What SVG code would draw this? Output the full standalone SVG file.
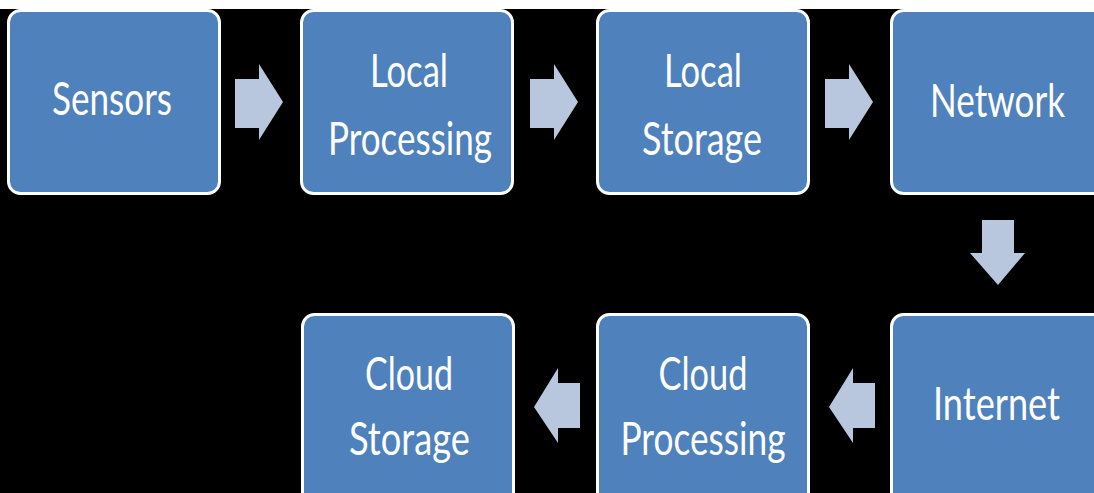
<svg xmlns="http://www.w3.org/2000/svg" width="1094" height="493" viewBox="0 0 1094 493">
  <defs>
    <style>
      .box { fill: #4f81bd; stroke: #ffffff; stroke-width: 3; }
      .lbl { font-family: Lato, "Liberation Sans", sans-serif; font-size: 47px; fill: #ffffff; text-anchor: middle; }
      .arr { fill: #b8c6de; }
    </style>
  </defs>
  <rect x="0" y="0" width="1094" height="493" fill="#000000"/>
  <rect x="0" y="0" width="1094" height="9" fill="#ffffff"/>

  <g id="sensors">
    <rect class="box" x="8.5" y="10.5" width="211" height="183" rx="12"/>
    <text class="lbl" x="112" y="115" textLength="120" lengthAdjust="spacingAndGlyphs">Sensors</text>
  </g>
  <g id="local-processing">
    <rect class="box" x="301.5" y="10.5" width="211" height="183" rx="12"/>
    <text class="lbl" x="409" y="87" textLength="78" lengthAdjust="spacingAndGlyphs">Local</text>
    <text class="lbl" x="410" y="155" textLength="164" lengthAdjust="spacingAndGlyphs">Processing</text>
  </g>
  <g id="local-storage">
    <rect class="box" x="597.5" y="10.5" width="211" height="183" rx="12"/>
    <text class="lbl" x="703" y="87" textLength="78" lengthAdjust="spacingAndGlyphs">Local</text>
    <text class="lbl" x="702" y="155" textLength="120" lengthAdjust="spacingAndGlyphs">Storage</text>
  </g>
  <g id="network">
    <rect class="box" x="891.5" y="10.5" width="230" height="183" rx="12"/>
    <text class="lbl" x="997.5" y="117" textLength="135" lengthAdjust="spacingAndGlyphs">Network</text>
  </g>
  <g id="internet">
    <rect class="box" x="891.5" y="314.5" width="230" height="200" rx="12"/>
    <text class="lbl" x="996.5" y="420" textLength="127" lengthAdjust="spacingAndGlyphs">Internet</text>
  </g>
  <g id="cloud-processing">
    <rect class="box" x="597.5" y="314.5" width="211" height="200" rx="12"/>
    <text class="lbl" x="703" y="390" textLength="89" lengthAdjust="spacingAndGlyphs">Cloud</text>
    <text class="lbl" x="703" y="455" textLength="165" lengthAdjust="spacingAndGlyphs">Processing</text>
  </g>
  <g id="cloud-storage">
    <rect class="box" x="302.5" y="314.5" width="211" height="200" rx="12"/>
    <text class="lbl" x="409" y="390" textLength="88" lengthAdjust="spacingAndGlyphs">Cloud</text>
    <text class="lbl" x="409.5" y="455" textLength="121" lengthAdjust="spacingAndGlyphs">Storage</text>
  </g>

  <g id="connectors">
    <polygon class="arr" points="235,79 259,79 259,64 283,102 259,140 259,128 235,128"/>
    <polygon class="arr" points="530,79 554,79 554,64 578,102 554,140 554,128 530,128"/>
    <polygon class="arr" points="825,79 849,79 849,64 873,102 849,140 849,128 825,128"/>
    <polygon class="arr" points="982,220 1014,220 1014,253 1025,253 998,285 970,253 982,253"/>
    <polygon class="arr" points="875,383 853,383 853,368 829,407 853,443 853,428 875,428"/>
    <polygon class="arr" points="580,383 558,383 558,368 534,407 558,443 558,428 580,428"/>
  </g>
</svg>
